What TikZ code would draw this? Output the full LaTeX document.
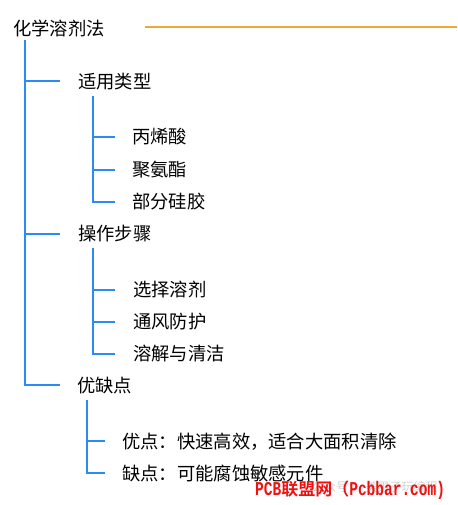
\documentclass[tikz,border=0pt]{standalone}
\usepackage{fontspec}
\setmainfont{Noto Sans CJK SC}
\newfontfamily\wmfont{Noto Sans CJK SC Bold}
\newfontfamily\wmlatin{Liberation Mono Bold}
\definecolor{branchblue}{HTML}{2A8CF0}
\definecolor{rootorange}{HTML}{F0A830}
\definecolor{wmred}{HTML}{F01010}
\definecolor{wmgray}{HTML}{D0D0D0}
\newcommand{\wmL}[1]{\scalebox{1}[1.35]{\wmlatin\fontsize{14.5}{16}\selectfont #1}}
\begin{document}
\begin{tikzpicture}[x=1pt,y=-1pt,
  txt/.style={anchor=west,inner sep=0pt,font=\fontsize{18.3}{21}\selectfont},
  conn/.style={draw=branchblue,line width=1.8pt},
  wm/.style={anchor=west,inner sep=0pt,text=wmred,font=\wmfont\fontsize{17}{19}\selectfont},
  wmg/.style={anchor=west,inner sep=0pt,text=wmgray,font=\fontsize{12}{14}\selectfont}]
\useasboundingbox (0,0) rectangle (457,505);
\node[txt] (root) at (13,28) {化学溶剂法};
\coordinate (ol) at (145,27);
\coordinate (or) at (457,27);
\draw[draw=rootorange,line width=1.8pt] (ol) -- (or);
% level 1
\node[txt] (a) at (78,82) {适用类型};
\node[txt] (b) at (78,234) {操作步骤};
\node[txt] (c) at (77,386) {优缺点};
\coordinate (m0) at (25,40);
\coordinate (ma) at (60,81);
\coordinate (mb) at (60,234);
\coordinate (mc) at (60,385);
\draw[conn] (m0) |- (mc);
\draw[conn] (m0|-ma) -- (ma);
\draw[conn] (m0|-mb) -- (mb);
% level 2 under a
\node[txt] (a1) at (132,137) {丙烯酸};
\node[txt] (a2) at (132,170) {聚氨酯};
\node[txt] (a3) at (132,202) {部分硅胶};
\coordinate (s1) at (93,96);
\coordinate (e1) at (115,137);
\coordinate (e2) at (115,170);
\coordinate (e3) at (115,202);
\draw[conn] (s1) |- (e3);
\draw[conn] (s1|-e1) -- (e1);
\draw[conn] (s1|-e2) -- (e2);
% level 2 under b
\node[txt] (b1) at (133,290) {选择溶剂};
\node[txt] (b2) at (133,322) {通风防护};
\node[txt] (b3) at (133,354) {溶解与清洁};
\coordinate (s2) at (93,248);
\coordinate (f1) at (115,290);
\coordinate (f2) at (115,322);
\coordinate (f3) at (115,354);
\draw[conn] (s2) |- (f3);
\draw[conn] (s2|-f1) -- (f1);
\draw[conn] (s2|-f2) -- (f2);
% level 2 under c
\node[txt] (c1) at (122,442) {优点：快速高效，适合大面积清除};
\node[txt] (c2) at (122,474) {缺点：可能腐蚀敏感元件};
\coordinate (s3) at (87,400);
\coordinate (g1) at (105,441);
\coordinate (g2) at (105,473);
\draw[conn] (s3) |- (g2);
\draw[conn] (s3|-g1) -- (g1);
% watermark
\node[wmg] (wmg) at (312,487) {公众号 · 美男子玩编程};
\node[wm] (wm) at (255,490) {\wmL{PCB}联盟网（\wmL{Pcbbar.com)}};
\end{tikzpicture}
\end{document}
